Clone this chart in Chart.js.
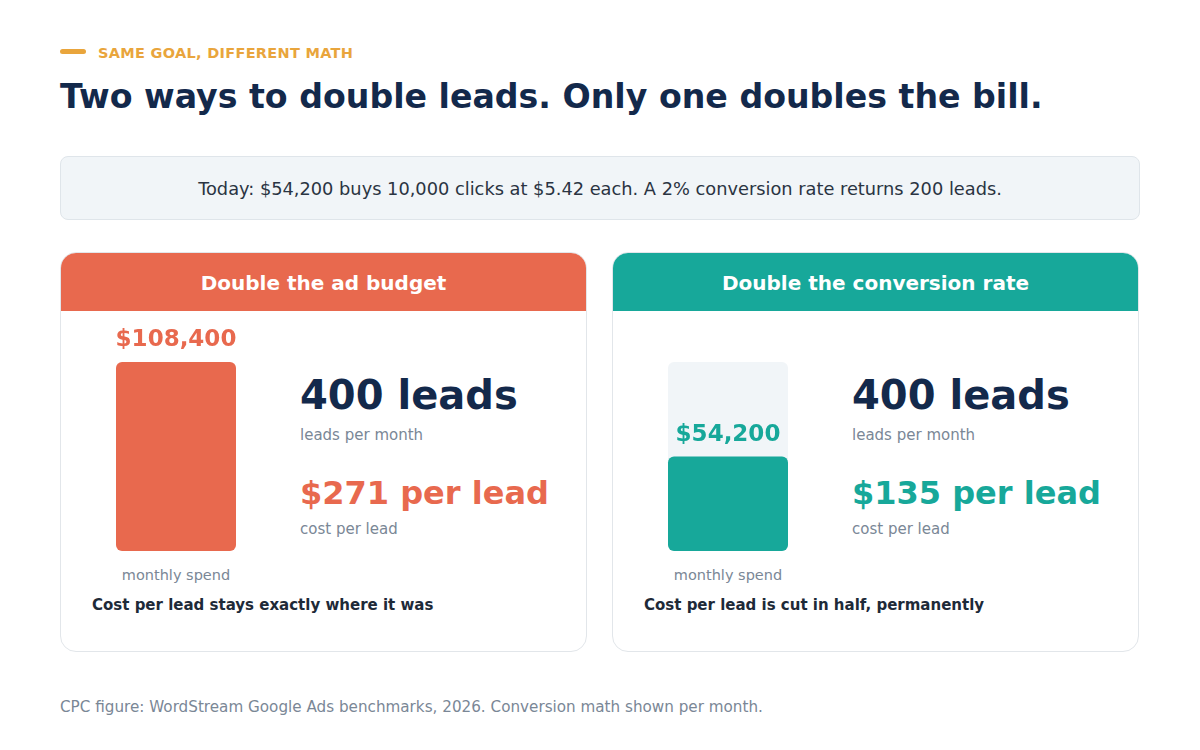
<!DOCTYPE html>
<html><head><meta charset="utf-8">
<script src="https://cdn.jsdelivr.net/npm/chart.js@4"></script>
<style>
body{margin:0;width:1200px;height:750px;background:#fff;font-family:"DejaVu Sans",sans-serif;position:relative;overflow:hidden}
.abs{position:absolute}
.eyebrow{left:60px;top:45px;color:#e9a53c;font-weight:bold;font-size:14.5px;letter-spacing:0.3px}
.eyebrow span{display:inline-block;width:26px;height:5px;border-radius:3px;background:#e9a53c;vertical-align:middle;margin-right:12px;position:relative;top:-3px}
.title{left:60px;top:77px;color:#13294b;font-weight:bold;font-size:33.2px}
.box{left:60px;top:156px;width:1078px;height:62px;background:#f1f5f8;border:1px solid #dfe5ea;border-radius:8px;text-align:center;line-height:64px;font-size:17.8px;color:#2a3442}
.card{top:252px;width:525px;height:398px;border:1.5px solid #e2e6ea;border-radius:16px;overflow:hidden}
.hdr{height:58px;color:#fff;font-weight:bold;font-size:20px;text-align:center;line-height:60px}
.big{color:#13294b;font-weight:bold;font-size:40px}
.sub{color:#7a8796;font-size:15px}
.sm{font-size:14.5px}
.cpl{font-weight:bold;font-size:32px}
.note{font-weight:bold;font-size:15px;color:#1e2a38}
.foot{left:60px;top:698px;color:#7a8796;font-size:15.2px}
</style></head><body>
<div class="abs eyebrow"><span></span>SAME GOAL, DIFFERENT MATH</div>
<div class="abs title">Two ways to double leads. Only one doubles the bill.</div>
<div class="abs box">Today: $54,200 buys 10,000 clicks at $5.42 each. A 2% conversion rate returns 200 leads.</div>

<div class="abs card" style="left:60px"><div class="hdr" style="background:#e8694e">Double the ad budget</div></div>
<div class="abs card" style="left:612px"><div class="hdr" style="background:#17a89a">Double the conversion rate</div></div>

<div class="abs" style="left:96px;top:320px;width:160px;height:231px"><canvas id="c1"></canvas></div>
<div class="abs" style="left:648px;top:320px;width:160px;height:231px"><canvas id="c2"></canvas></div>

<div class="abs sub sm" style="left:96px;width:160px;text-align:center;top:567px">monthly spend</div>
<div class="abs sub sm" style="left:648px;width:160px;text-align:center;top:567px">monthly spend</div>

<div class="abs big" style="left:300px;top:372px">400 leads</div>
<div class="abs sub" style="left:300px;top:426px">leads per month</div>
<div class="abs cpl" style="left:300px;top:474px;color:#e8694e">$271 per lead</div>
<div class="abs sub" style="left:300px;top:520px">cost per lead</div>
<div class="abs note" style="left:92px;top:596px">Cost per lead stays exactly where it was</div>

<div class="abs big" style="left:852px;top:372px">400 leads</div>
<div class="abs sub" style="left:852px;top:426px">leads per month</div>
<div class="abs cpl" style="left:852px;top:474px;color:#17a89a">$135 per lead</div>
<div class="abs sub" style="left:852px;top:520px">cost per lead</div>
<div class="abs note" style="left:644px;top:596px">Cost per lead is cut in half, permanently</div>

<div class="abs foot">CPC figure: WordStream Google Ads benchmarks, 2026. Conversion math shown per month.</div>

<script>
const categories=["monthly spend"];
const scaleMax=108400;
const budgetSpend=[108400];
const conversionSpend=[54200];
const valueLabel=v=>"$"+v.toLocaleString("en-US");
const labelPlugin={id:"lbl",afterDatasetsDraw(ch){
  const ds=ch.data.datasets.length-1;const m=ch.getDatasetMeta(ds).data[0];
  const ctx=ch.ctx;ctx.save();ctx.font="bold 23px 'DejaVu Sans'";ctx.fillStyle=ch.data.datasets[ds].backgroundColor;
  ctx.textAlign="center";ctx.textBaseline="bottom";ctx.fillText(valueLabel(ch.data.datasets[ds].data[0]),m.x,m.y-10);ctx.restore();}};
function make(id,data,color,track){
  const datasets=[];
  if(track)datasets.push({data:[scaleMax],order:2,backgroundColor:"#f1f5f8",borderRadius:6,borderSkipped:false,barPercentage:1,categoryPercentage:0.75});
  datasets.push({data:data,order:1,backgroundColor:color,borderRadius:6,borderSkipped:false,barPercentage:1,categoryPercentage:0.75});
  new Chart(document.getElementById(id),{type:"bar",data:{labels:categories,datasets},
    options:{responsive:true,maintainAspectRatio:false,animation:false,layout:{padding:{top:42}},
      datasets:{bar:{grouped:false}},
      plugins:{legend:{display:false},tooltip:{enabled:false}},
      scales:{x:{display:false},y:{display:false,min:0,max:scaleMax}}},plugins:[labelPlugin]});
}
make("c1",budgetSpend,"#e8694e",false);
make("c2",conversionSpend,"#17a89a",true);
</script>
</body></html>
